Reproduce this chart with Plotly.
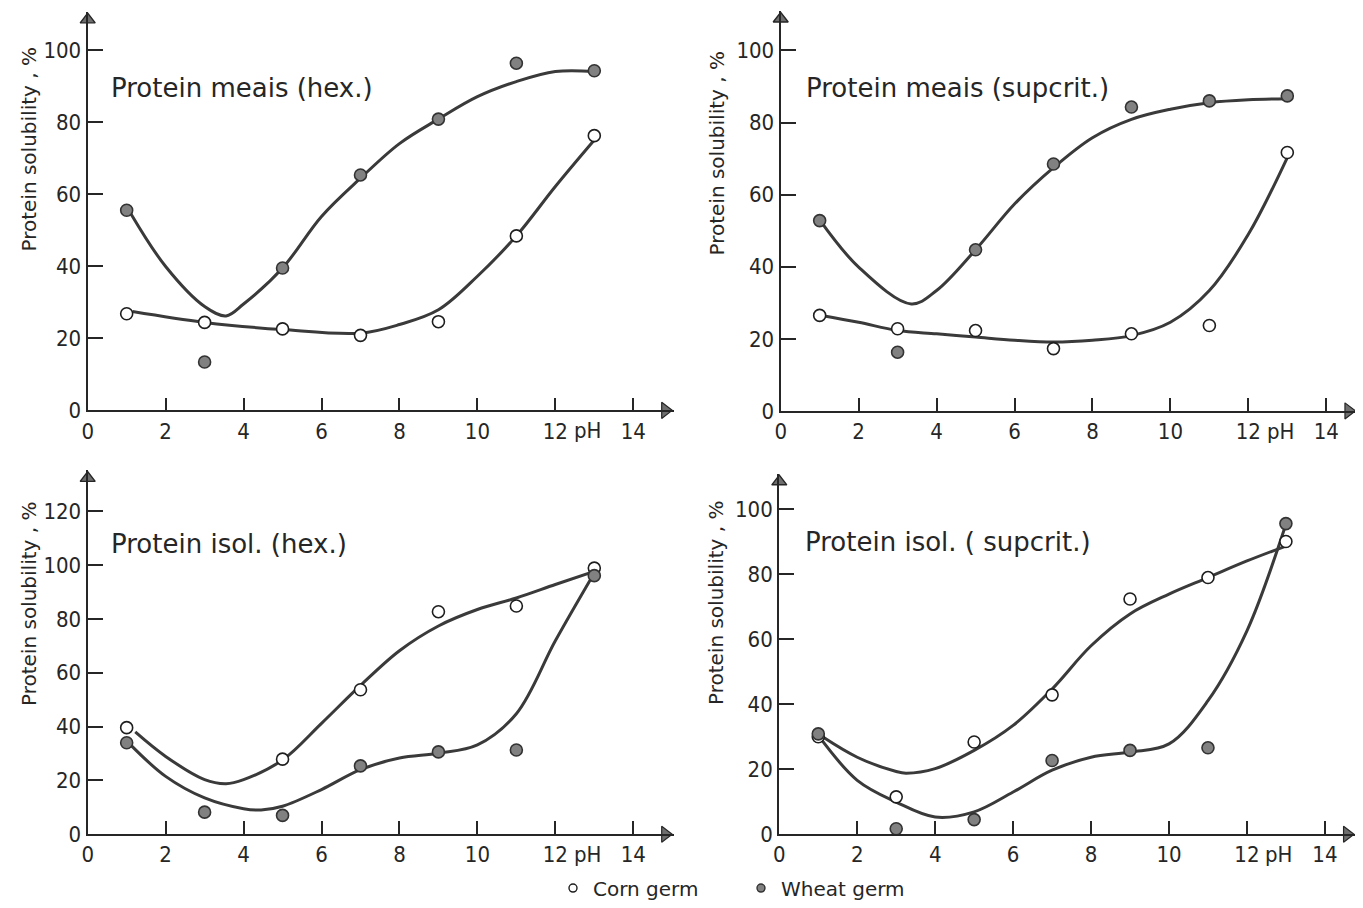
import plotly.graph_objects as go

# ---------------- data ----------------
ph = [1, 3, 5, 7, 9, 11, 13]
ph_isol_hex_corn = [1, 5, 7, 9, 11, 13]

# Protein meais (hex.)
meais_hex_corn = [26.8, 24.4, 22.6, 20.8, 24.6, 48.4, 76.2]
meais_hex_wheat = [55.5, 13.4, 39.5, 65.3, 80.8, 96.3, 94.2]
meais_hex_corn_fit_x = [1.15, 3, 5, 7, 8, 9, 10, 11, 12, 13]
meais_hex_corn_fit_y = [27.4, 24.4, 22.4, 21.4, 23.8, 27.9, 37.2, 48.4, 62.1, 75.0]
meais_hex_wheat_fit_x = [1.1, 2, 3, 3.55, 4, 5, 6, 7, 8, 9, 10, 11, 12, 13]
meais_hex_wheat_fit_y = [54.7, 39.9, 28.8, 26.2, 29.5, 39.5, 53.8, 64.4, 74.0, 80.8, 87.0, 91.2, 94.0, 94.0]

# Protein meais (supcrit.)
meais_sup_corn = [26.5, 22.8, 22.3, 17.3, 21.4, 23.7, 71.7]
meais_sup_wheat = [52.8, 16.3, 44.7, 68.5, 84.3, 86.0, 87.4]
meais_sup_corn_fit_x = [1.05, 2, 3, 4, 5, 6, 7, 8, 9, 10, 11, 12, 13]
meais_sup_corn_fit_y = [26.5, 24.6, 22.3, 21.4, 20.5, 19.6, 19.1, 19.6, 20.9, 24.6, 33.4, 49.0, 70.3]
meais_sup_wheat_fit_x = [1, 2, 3.35, 4, 5, 6, 7, 8, 9, 10, 11, 12, 13]
meais_sup_wheat_fit_y = [53.0, 39.9, 29.7, 33.4, 44.7, 57.4, 67.5, 75.8, 80.9, 83.7, 85.5, 86.3, 86.6]

# Protein isol. (hex.)
isol_hex_corn = [39.6, 27.9, 53.7, 82.7, 84.8, 98.9]
isol_hex_wheat = [34.0, 8.2, 7.0, 25.4, 30.6, 31.3, 96.1]
isol_hex_corn_fit_x = [1.22, 2, 3, 3.55, 4, 5, 6, 7, 8, 9, 10, 11, 12, 13]
isol_hex_corn_fit_y = [38.0, 28.9, 20.3, 18.8, 20.3, 27.6, 41.2, 55.3, 68.2, 77.4, 83.5, 87.8, 92.8, 97.7]
isol_hex_wheat_fit_x = [1.1, 2, 3, 4, 4.45, 5, 6, 7, 8, 9, 10, 11, 12, 13]
isol_hex_wheat_fit_y = [33.2, 21.5, 13.5, 9.5, 9.0, 10.4, 16.6, 24.0, 28.3, 30.1, 33.2, 44.8, 71.9, 97.1]

# Protein isol. (supcrit.)
isol_sup_corn = [30.0, 11.5, 28.4, 42.9, 72.4, 79.0, 90.1]
isol_sup_wheat = [30.9, 1.7, 4.5, 22.7, 25.8, 26.6, 95.6]
isol_sup_corn_fit_x = [1.12, 2, 3, 3.25, 4, 5, 6, 7, 8, 9, 10, 11, 12, 13]
isol_sup_corn_fit_y = [29.9, 23.7, 19.3, 18.8, 20.2, 25.8, 33.5, 44.7, 58.0, 67.8, 73.9, 79.0, 84.1, 88.7]
isol_sup_wheat_fit_x = [1, 2, 3, 4, 5, 6, 7, 8, 9, 10, 11, 12, 13]
isol_sup_wheat_fit_y = [30.4, 16.6, 9.9, 5.3, 6.9, 13.0, 19.7, 23.7, 25.3, 27.8, 41.1, 62.6, 95.4]

x_ticks = [0, 2, 4, 6, 8, 10, 12, 14]
y_ticks_100 = [0, 20, 40, 60, 80, 100]
y_ticks_120 = [0, 20, 40, 60, 80, 100, 120]

titles = ["Protein meais (hex.)", "Protein meais (supcrit.)",
          "Protein isol. (hex.)", "Protein isol. ( supcrit.)"]
y_title = "Protein solubility , %"
legend_names = ["Corn germ", "Wheat germ"]

# ---------------- layout geometry (screen pixels) ----------------
OFF = 8                       # page body margin
W, H = 1363 - OFF, 908 - OFF  # figure size so that it ends at the window edge


def px(v):
    return v - OFF


panel_geo = [
    dict(x0=87.7, y0=411.7, xp=38.97, yp=3.617, xmax=15.05, ymax=110.6, tx=0.55, ty=89.5, yt=(29, 150), yticks=y_ticks_100),
    dict(x0=780.7, y0=412.3, xp=38.97, yp=3.617, xmax=14.8, ymax=111.0, tx=0.6, ty=89.5, yt=(717, 154), yticks=y_ticks_100),
    dict(x0=87.7, y0=837.0, xp=38.97, yp=2.70, xmax=15.05, ymax=135.3, tx=0.55, ty=108.0, yt=(29, 606), yticks=y_ticks_120),
    dict(x0=779.3, y0=837.0, xp=38.97, yp=3.26, xmax=14.8, ymax=111.0, tx=0.62, ty=89.8, yt=(716, 605), yticks=y_ticks_100),
]

series = [
    (ph, meais_hex_corn, ph, meais_hex_wheat,
     meais_hex_corn_fit_x, meais_hex_corn_fit_y, meais_hex_wheat_fit_x, meais_hex_wheat_fit_y),
    (ph, meais_sup_corn, ph, meais_sup_wheat,
     meais_sup_corn_fit_x, meais_sup_corn_fit_y, meais_sup_wheat_fit_x, meais_sup_wheat_fit_y),
    (ph_isol_hex_corn, isol_hex_corn, ph, isol_hex_wheat,
     isol_hex_corn_fit_x, isol_hex_corn_fit_y, isol_hex_wheat_fit_x, isol_hex_wheat_fit_y),
    (ph, isol_sup_corn, ph, isol_sup_wheat,
     isol_sup_corn_fit_x, isol_sup_corn_fit_y, isol_sup_wheat_fit_x, isol_sup_wheat_fit_y),
]

INK = "#262626"
LINE = "#3a3a3a"
FILL = "#818181"
TICKFONT = dict(family="Liberation Sans Narrow, DejaVu Sans Condensed, Liberation Sans, sans-serif", size=22, color=INK)
TEXTFONT = dict(family="DejaVu Sans, sans-serif", size=26, color=INK)

fig = go.Figure()
layout = dict(
    template="none",
    width=W, height=H, margin=dict(l=0, r=0, t=0, b=0, pad=0),
    paper_bgcolor="white", plot_bgcolor="white", annotations=[],
    showlegend=True,
)

for i, (g, s) in enumerate(zip(panel_geo, series)):
    n = "" if i == 0 else str(i + 1)
    xa, ya = "x" + n, "y" + n
    cx, cy, wx, wy, fcx, fcy, fwx, fwy = s

    x0, y0 = px(g["x0"]), px(g["y0"])
    xd = [x0 / W, min(1.0, (x0 + g["xmax"] * g["xp"]) / W)]
    yd = [(H - y0) / H, (H - (y0 - g["ymax"] * g["yp"])) / H]

    layout["xaxis" + n] = dict(
        domain=xd, range=[0, g["xmax"]], anchor=ya, showgrid=False, zeroline=False,
        automargin=False,
        showline=True, linecolor=INK, linewidth=1.6,
        ticks="inside", ticklen=13, tickwidth=1.6, tickcolor=INK,
        tickvals=x_ticks, ticktext=[str(v) for v in x_ticks],
        tickfont=TICKFONT, ticklabelstandoff=0,
    )
    layout["yaxis" + n] = dict(
        domain=yd, range=[0, g["ymax"]], anchor=xa, showgrid=False, zeroline=False,
        automargin=False,
        showline=True, linecolor=INK, linewidth=2.2,
        ticks="inside", ticklen=15, tickwidth=1.5, tickcolor=INK,
        tickvals=g["yticks"], ticktext=[str(v) for v in g["yticks"]],
        tickfont=TICKFONT, ticklabelstandoff=0,
    )

    # fitted curves
    for fx, fy in ((fcx, fcy), (fwx, fwy)):
        fig.add_trace(go.Scatter(
            x=fx, y=fy, mode="lines", xaxis=xa, yaxis=ya,
            line=dict(color=LINE, width=3, shape="spline", smoothing=1.0),
            showlegend=False, hoverinfo="skip"))

    # data points
    fig.add_trace(go.Scatter(
        x=cx, y=cy, mode="markers", xaxis=xa, yaxis=ya, showlegend=False,
        marker=dict(symbol="circle", size=12, color="white", line=dict(color="#1e1e1e", width=1.6))))
    fig.add_trace(go.Scatter(
        x=wx, y=wy, mode="markers", xaxis=xa, yaxis=ya, showlegend=False,
        marker=dict(symbol="circle", size=12, color=FILL, line=dict(color="#333333", width=1.6))))

    # axis arrow heads
    fig.add_trace(go.Scatter(
        x=[0], y=[g["ymax"] - 8 / g["yp"]], mode="markers", xaxis=xa, yaxis=ya,
        marker=dict(symbol="triangle-up", size=13, color="#6e6e6e", line=dict(color=INK, width=1.4)),
        showlegend=False, hoverinfo="skip", cliponaxis=False))
    fig.add_trace(go.Scatter(
        x=[g["xmax"] - 9 / g["xp"]], y=[0], mode="markers", xaxis=xa, yaxis=ya,
        marker=dict(symbol="triangle-right", size=14, color="#6e6e6e", line=dict(color=INK, width=1.2)),
        showlegend=False, hoverinfo="skip", cliponaxis=False))

    # panel title
    layout["annotations"].append(dict(
        x=g["tx"], y=g["ty"], xref=xa, yref=ya, text=titles[i], showarrow=False,
        xanchor="left", yanchor="middle", font=TEXTFONT))
    # pH label
    layout["annotations"].append(dict(
        x=12.82, y=0, xref=xa, yref=ya, text="pH", showarrow=False,
        xanchor="center", yanchor="top", yshift=-6, font=TICKFONT))
    # y axis title
    layout["annotations"].append(dict(
        x=px(g["yt"][0]) / W, y=(H - px(g["yt"][1])) / H, xref="paper", yref="paper",
        text=y_title, textangle=-90, showarrow=False,
        xanchor="center", yanchor="middle",
        font=dict(family="DejaVu Sans, sans-serif", size=20, color=INK)))

# legend entries
fig.add_trace(go.Scatter(
    x=[None], y=[None], mode="markers", name=legend_names[0],
    marker=dict(symbol="circle", size=8, color="white", line=dict(color="#1e1e1e", width=1.4))))
fig.add_trace(go.Scatter(
    x=[None], y=[None], mode="markers", name=legend_names[1],
    marker=dict(symbol="circle", size=8, color=FILL, line=dict(color="#333333", width=1.4))))

layout["legend"] = dict(
    orientation="h", x=px(553) / W, y=(H - px(891)) / H, xanchor="left", yanchor="middle",
    font=dict(family="DejaVu Sans, sans-serif", size=20, color=INK),
    bgcolor="rgba(0,0,0,0)", entrywidth=143, entrywidthmode="pixels",
)

fig.update_layout(**layout)
fig.write_html("out.html")
